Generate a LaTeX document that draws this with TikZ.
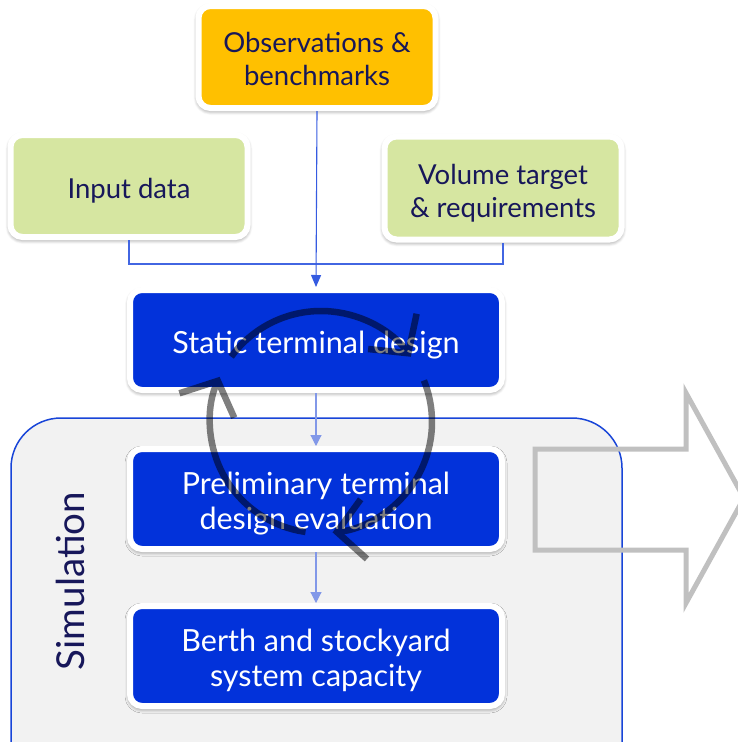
\documentclass[tikz,border=0pt]{standalone}
\usepackage{fontspec}
\setmainfont{Lato}
\usetikzlibrary{arrows.meta,shadows.blur,calc}
\definecolor{obsyellow}{HTML}{FFC000}
\definecolor{ingreen}{HTML}{D6E6A1}
\definecolor{stepblue}{HTML}{0232DA}
\definecolor{navy}{HTML}{17175A}
\definecolor{simgray}{HTML}{F2F2F2}
\definecolor{simedge}{HTML}{1845D8}
\definecolor{feedblue}{HTML}{4266E2}
\definecolor{flowblue}{HTML}{8298E8}
\definecolor{outarrow}{HTML}{C0C0C0}

\tikzset{
  card/.style={rectangle, rounded corners=12pt, draw=white, line width=6pt, align=center,
    blur shadow={shadow xshift=0pt, shadow yshift=-2pt, shadow blur radius=5pt,
      shadow blur steps=8, shadow opacity=60}},
  inbox/.style={card, fill=ingreen, text=navy, font=\fontsize{27.5}{33}\selectfont,
    text height=30pt, minimum width=237pt, minimum height=102pt},
  inbox2/.style={inbox, text height=64pt},
  obsbox/.style={inbox, fill=obsyellow, text height=58pt},
  stepbox/.style={card, fill=stepblue, text=white, font=\fontsize{30.5}{35}\selectfont,
    text height=32pt, minimum width=372pt, minimum height=100pt},
  stepbox2/.style={stepbox, text height=66pt},
  feed/.style={draw=feedblue, line width=1.1pt},
  flow/.style={draw=flowblue, line width=1.1pt, -{Triangle[length=11pt,width=11pt]}},
  cyc/.style={line width=6.5pt, draw=black,
    -{Straight Barb[length=27pt,width=60pt,line width=6.5pt]}}
}

\begin{document}
\begin{tikzpicture}[x=1pt,y=1pt]
  \useasboundingbox (0,0) rectangle (738,-742);
  % simulation frame
  \draw[fill=simgray, draw=simedge, line width=1.5pt, rounded corners=50pt]
    (11,-418) rectangle (622,-800);
  \node[rotate=90, text=navy, font=\fontsize{38.5}{42}\selectfont] (simlab) at (70,-581) {Simulation};
  % outgoing arrow
  \begin{scope}
    \clip (0,0) rectangle (738,-742);
    \draw[outarrow, line width=5pt, line join=miter]
      (535,-449) -- (686,-449) -- (686,-393) -- (744,-498)
      -- (686,-603) -- (686,-550) -- (535,-550) -- cycle;
  \end{scope}

  \node[obsbox] (obs) at (317,-57) {Observations \&\\benchmarks};
  \node[inbox] (in) at (129,-186) {Input data};
  \node[inbox2, minimum height=103pt] (vol) at (503,-188) {Volume target\\\& requirements};
  \node[stepbox] (static) at (316,-340) {Static terminal design};
  \node[stepbox2] (prelim) at (316,-499) {Preliminary terminal\\design evaluation};
  \node[stepbox2] (berth) at (316,-656) {Berth and stockyard\\system capacity};

  \coordinate (jn) at (317,-264);
  \path[feed] (in.south) |- (jn) -| (vol.south);
  \draw[feed, -{Triangle[length=12pt,width=10pt]}, draw=stepblue!80] (obs.south) -- (static.north);
  \draw[flow] (static.south) -- (prelim.north);
  \draw[flow] (prelim.south) -- (berth.north);

  % iteration cycle
  \coordinate (c) at (321,-422);
  \begin{scope}[transparency group, opacity=.5]
    \draw[cyc] ($(c)+(144:111)$) arc[start angle=144, end angle=36, radius=111];
    \draw[cyc] ($(c)+(22:111)$) arc[start angle=22, end angle=-84, radius=111];
    \draw[cyc] ($(c)+(262:111)$) arc[start angle=262, end angle=156, radius=111];
  \end{scope}
\end{tikzpicture}
\end{document}
